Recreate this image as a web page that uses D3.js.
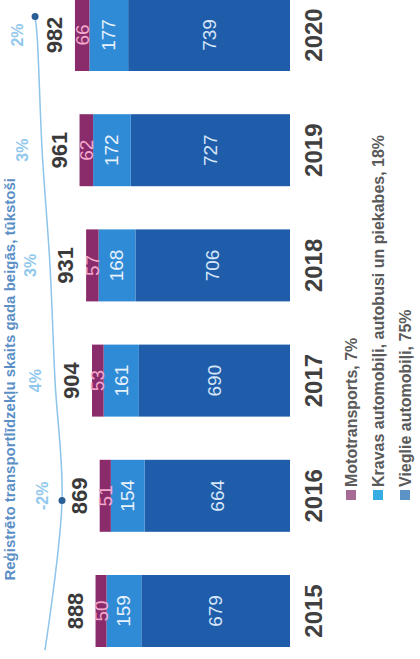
<!DOCTYPE html>
<html>
<head>
<meta charset="utf-8">
<script src="https://cdn.jsdelivr.net/npm/d3@7"></script>
<style>
  html, body { margin: 0; padding: 0; background: #ffffff; }
  svg { display: block; }
</style>
</head>
<body>
<svg id="chart" width="420" height="659"></svg>
<script>
// ---- data ----
const years = [2015, 2016, 2017, 2018, 2019, 2020];
const moto = [50, 51, 53, 57, 62, 66];
const kravas = [159, 154, 161, 168, 172, 177];
const vieglie = [679, 664, 690, 706, 727, 739];
const totals = [888, 869, 904, 931, 961, 982];
const growthLabels = ["", "-2%", "4%", "3%", "3%", "2%"];
const seriesNames = ["Vieglie automobiļi, 75%", "Kravas automobiļi, autobusi un piekabes, 18%", "Mototransports, 7%"];
const legendOrder = ["Mototransports, 7%", "Kravas automobiļi, autobusi un piekabes, 18%", "Vieglie automobiļi, 75%"];
// decorative growth trend line (year position, level in value units)
const lineYears = [2014.66, 2015.96, 2017, 2018, 2019, 2020, 2020.16];
const lineLevel = [1119, 1041, 1073, 1096, 1132, 1155, 1164];
const dotIndex = [1, 6];
const titleText = "Reģistrēto transportlīdzekļu skaits gada beigās, tūkstoši";

// ---- styles ----
const barColors = { "Vieglie automobiļi, 75%": "#1f5dab", "Kravas automobiļi, autobusi un piekabes, 18%": "#2f8bd6", "Mototransports, 7%": "#8a2b6b" };
const legendColors = { "Vieglie automobiļi, 75%": "#5b93c4", "Kravas automobiļi, autobusi un piekabes, 18%": "#35ade3", "Mototransports, 7%": "#a56b94" };
const innerTextColors = { "Vieglie automobiļi, 75%": "#d6e6f8", "Kravas automobiļi, autobusi un piekabes, 18%": "#e8f2fc", "Mototransports, 7%": "#f3a9cb" };

// Chart is drawn in its own (landscape) frame, then turned a quarter turn
const W = 659, H = 420;
const svg = d3.select("#chart");
const g = svg.append("g").attr("transform", `translate(0,${W}) rotate(-90)`);

const x = d3.scaleBand().domain(years).range([-9.6, 681.6]).paddingInner(0.375).paddingOuter(0.1875);
const y = d3.scaleLinear().domain([0, 1000]).range([290, 71]);
const xLin = d3.scaleLinear().domain([2015, 2020])
  .range([x(2015) + x.bandwidth() / 2, x(2020) + x.bandwidth() / 2]);

// stacked data
const rows = years.map((yr, i) => ({
  year: yr,
  "Vieglie automobiļi, 75%": vieglie[i],
  "Kravas automobiļi, autobusi un piekabes, 18%": kravas[i],
  "Mototransports, 7%": moto[i]
}));
const stack = d3.stack().keys(seriesNames)(rows);

// title
g.append("text")
  .attr("x", 481).attr("y", 15)
  .attr("text-anchor", "end")
  .attr("font-family", "Liberation Sans, Arial, sans-serif")
  .attr("font-weight", "bold")
  .attr("font-size", 15)
  .attr("fill", "#5b8fc6")
  .text(titleText);

// bars
const layer = g.selectAll("g.layer").data(stack).join("g").attr("class", "layer")
  .attr("fill", d => barColors[d.key]);
layer.selectAll("rect").data(d => d.map(p => ({ p, key: d.key }))).join("rect")
  .attr("x", d => x(d.p.data.year))
  .attr("width", x.bandwidth())
  .attr("y", d => y(d.p[1]))
  .attr("height", d => y(d.p[0]) - y(d.p[1]));

// inner labels
layer.selectAll("text").data(d => d.map(p => ({ p, key: d.key }))).join("text")
  .attr("x", d => x(d.p.data.year) + x.bandwidth() / 2)
  .attr("y", d => (y(d.p[0]) + y(d.p[1])) / 2)
  .attr("text-anchor", "middle")
  .attr("dominant-baseline", "central")
  .attr("font-family", "Liberation Sans, Arial, sans-serif")
  .attr("font-size", 19)
  .attr("fill", d => innerTextColors[d.key])
  .text(d => d.p[1] - d.p[0]);

// totals
g.selectAll("text.total").data(years).join("text").attr("class", "total")
  .attr("x", d => x(d) + x.bandwidth() / 2)
  .attr("y", (d, i) => y(totals[i]) - 13)
  .attr("text-anchor", "middle")
  .attr("font-family", "Liberation Sans Narrow, Arial Narrow, sans-serif")
  .attr("font-weight", "bold")
  .attr("font-size", 22)
  .attr("fill", "#3a3a3a")
  .text((d, i) => totals[i]);

// year labels
g.selectAll("text.year").data(years).join("text").attr("class", "year")
  .attr("x", d => x(d) + x.bandwidth() / 2)
  .attr("y", 322)
  .attr("text-anchor", "middle")
  .attr("font-family", "Liberation Sans Narrow, Arial Narrow, sans-serif")
  .attr("font-weight", "bold")
  .attr("font-size", 24)
  .attr("fill", "#404040")
  .text(d => d);

// trend line
const linePts = lineYears.map((yr, i) => [xLin(yr), y(lineLevel[i])]);
g.append("path")
  .attr("d", d3.line().curve(d3.curveCatmullRom)(linePts))
  .attr("fill", "none")
  .attr("stroke", "#8cc4ea")
  .attr("stroke-width", 1.5);
g.selectAll("circle.dot").data(dotIndex).join("circle").attr("class", "dot")
  .attr("cx", i => linePts[i][0])
  .attr("cy", i => linePts[i][1])
  .attr("r", 3.5)
  .attr("fill", "#2a5f95");

// growth labels
g.selectAll("text.growth").data(years).join("text").attr("class", "growth")
  .attr("x", d => x(d) + x.bandwidth() / 2)
  .attr("y", (d, i) => y(lineLevel[i]) - 14)
  .attr("text-anchor", "middle")
  .attr("font-family", "Liberation Sans, Arial, sans-serif")
  .attr("font-weight", "bold")
  .attr("font-size", 16)
  .attr("fill", "#90c8ee")
  .text((d, i) => growthLabels[i]);

// legend (rows in the landscape frame)
const legend = g.selectAll("g.leg").data(legendOrder).join("g").attr("class", "leg")
  .attr("transform", (d, i) => `translate(159, ${346 + i * 27})`);
legend.append("rect")
  .attr("x", 0).attr("y", 0).attr("width", 10).attr("height", 10)
  .attr("fill", d => legendColors[d]);
legend.append("text")
  .attr("x", 13).attr("y", 11)
  .attr("font-family", "Liberation Sans, Arial, sans-serif")
  .attr("font-weight", "bold")
  .attr("font-size", 16)
  .attr("fill", "#5a5a5a")
  .text(d => d);
</script>
</body>
</html>
